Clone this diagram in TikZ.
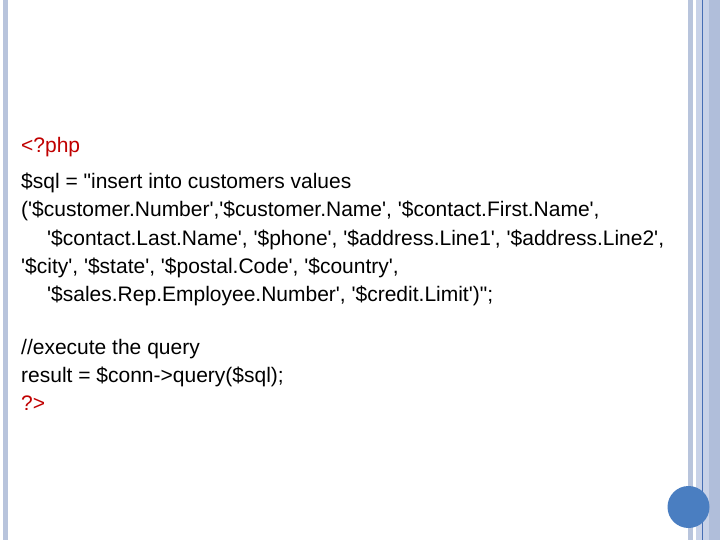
\documentclass[tikz,border=0pt]{standalone}
\usepackage{fontspec}
\setmainfont{Liberation Sans}
\newcommand{\sq}{\XeTeXglyph\XeTeXcharglyph"27\relax}
\newcommand{\dq}{\XeTeXglyph\XeTeXcharglyph"22\relax}
\begin{document}
\begin{tikzpicture}[x=1pt,y=-1pt,
  txt/.style={anchor=base west,inner sep=0pt,font=\fontsize{21}{24}\selectfont},
  red/.style={txt,text={rgb,255:red,192;green,0;blue,0}}]
\useasboundingbox (0,0) rectangle (720,540);
\definecolor{barA}{RGB}{184,196,220}
\definecolor{barB}{RGB}{200,210,232}
\definecolor{barC}{RGB}{176,190,218}
\definecolor{lineD}{RGB}{70,110,180}
\definecolor{circ}{RGB}{74,126,193}
\fill[barA] (3,0) rectangle (8,540);
\fill[barA] (688,0) rectangle (692.5,540);
\fill[barB] (696,0) rectangle (709,540);
\fill[barC] (709,0) rectangle (720,540);
\draw[lineD,line width=1pt] (702,0) -- (702,540);
\fill[circ] (688.5,507) circle (21);
\node[red] (l0) at (21,153) {<?php};
\node[txt] (l1) at (21,189) {\$sql = \dq insert into customers values};
\node[txt] (l2) at (21,217) {(\sq\$customer.Number\sq,\sq\$customer.Name\sq, \sq\$contact.First.Name\sq,};
\node[txt] (l3) at (47,245) {\sq\$contact.Last.Name\sq, \sq\$phone\sq, \sq\$address.Line1\sq, \sq\$address.Line2\sq,};
\node[txt] (l4) at (21,273) {\sq\$city\sq, \sq\$state\sq, \sq\$postal.Code\sq, \sq\$country\sq,};
\node[txt] (l5) at (47,301) {\sq\$sales.Rep.Employee.Number\sq, \sq\$credit.Limit\sq)\dq;};
\node[txt] (l6) at (21,354) {//execute the query};
\node[txt] (l7) at (21,382) {result = \$conn->query(\$sql);};
\node[red] (l8) at (21,410) {?>};
\end{tikzpicture}
\end{document}
